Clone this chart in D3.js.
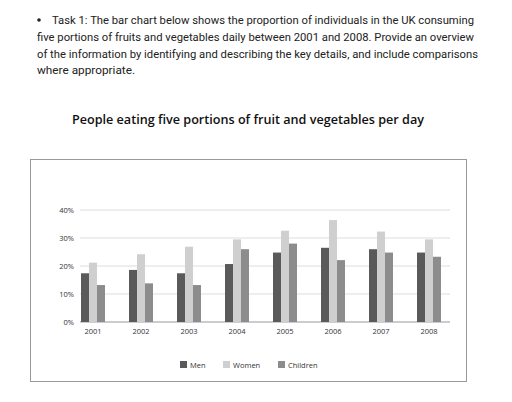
<!DOCTYPE html>
<html><head><meta charset="utf-8">
<script src="https://cdn.jsdelivr.net/npm/d3@7"></script>
<style>body{margin:0;background:#fff}</style></head>
<body><svg width="512" height="402"></svg>
<script>
const years=["2001","2002","2003","2004","2005","2006","2007","2008"];
const series=["Men","Women","Children"];
const men=[17.4,18.6,17.4,20.7,24.8,26.5,26,24.8];
const women=[21.2,24.2,26.9,29.5,32.6,36.4,32.3,29.5];
const children=[13.2,13.8,13.2,26,28,22.1,24.8,23.3];
const yTicks=[0,10,20,30,40];
const colors=["#5a5a5a","#cfcfcf","#8c8c8c"];
const introLines=["Task 1: The bar chart below shows the proportion of individuals in the UK consuming","five portions of fruits and vegetables daily between 2001 and 2008. Provide an overview","of the information by identifying and describing the key details, and include comparisons","where appropriate."];
const lineW=[422,437,441,null];

const svg=d3.select("svg");
svg.append("circle").attr("cx",39).attr("cy",20).attr("r",1.8).attr("fill","#222");
introLines.forEach((t,i)=>{const tx=svg.append("text").attr("x",i==0?52:37).attr("y",24+i*16.8)
  .attr("font-family","Roboto").attr("font-size",11.8).attr("fill","#222").text(t);
  if(lineW[i]) tx.attr("textLength",lineW[i]).attr("lengthAdjust","spacingAndGlyphs");});
svg.append("text").attr("x",248).attr("y",124).attr("text-anchor","middle")
  .attr("font-family","Open Sans").attr("font-weight",600).attr("font-size",12.8).attr("fill","#111")
  .attr("textLength",352).attr("lengthAdjust","spacingAndGlyphs")
  .text("People eating five portions of fruit and vegetables per day");
svg.append("rect").attr("x",30.5).attr("y",159.5).attr("width",436).attr("height",222)
  .attr("fill","none").attr("stroke","#999");

const x=d3.scaleBand().domain(years).range([69,453]).paddingInner(0.5).paddingOuter(0.25);
const xs=d3.scaleBand().domain(series).range([0,x.bandwidth()]);
const y=d3.scaleLinear().domain([0,40]).range([322,210]);
const g=svg.append("g");
g.selectAll(".grid").data(yTicks).join("line").attr("x1",80).attr("x2",450)
  .attr("y1",d=>y(d)).attr("y2",d=>y(d)).attr("stroke",d=>d==0?"#999":"#ddd").attr("stroke-width",1);
g.selectAll(".yl").data(yTicks).join("text").attr("x",74).attr("y",d=>y(d)+3)
  .attr("text-anchor","end").attr("font-family","Open Sans").attr("font-size",7.5).attr("fill","#333").text(d=>d+"%");
const vals=[men,women,children];
series.forEach((s,si)=>{
  g.selectAll(".b"+si).data(years).join("rect")
   .attr("x",d=>x(d)+xs(s)).attr("width",xs.bandwidth())
   .attr("y",(d,i)=>y(vals[si][i])).attr("height",(d,i)=>y(0)-y(vals[si][i])).attr("fill",colors[si]);
});
const xa=svg.append("g").attr("transform","translate(0,322)").call(d3.axisBottom(x).tickSize(0).tickPadding(7));
xa.select(".domain").remove();
xa.selectAll("text").attr("font-family","Open Sans").attr("font-size",7.5).attr("fill","#333");
const lx=[180,223,278];
series.forEach((s,i)=>{
  svg.append("rect").attr("x",lx[i]).attr("y",361).attr("width",7).attr("height",7).attr("fill",colors[i]);
  svg.append("text").attr("x",lx[i]+10).attr("y",367.5).attr("font-family","Open Sans").attr("font-size",7.5).attr("fill","#333").text(s);
});
</script></body></html>
